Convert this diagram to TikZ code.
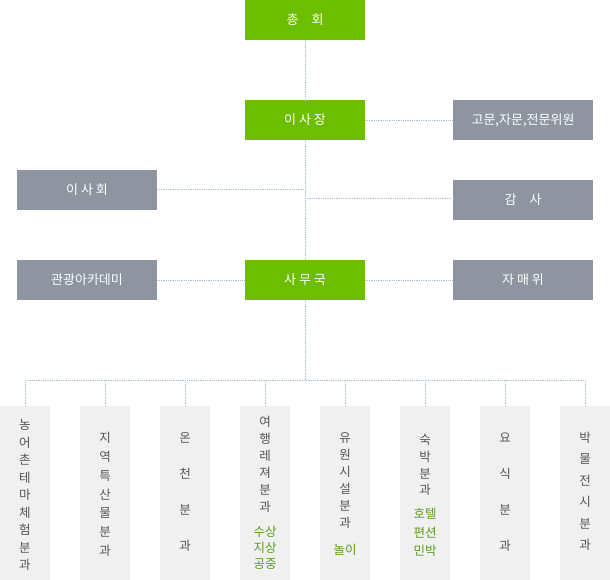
\documentclass[tikz,border=0pt]{standalone}
\usepackage{fontspec}
\setmainfont{Noto Sans CJK KR}
\definecolor{gbox}{HTML}{6DBE00}
\definecolor{sbox}{HTML}{8E95A1}
\definecolor{col}{HTML}{F0F0F0}
\definecolor{ctext}{HTML}{555555}
\definecolor{gtext}{HTML}{5A9E1A}
\definecolor{dline}{HTML}{A8BED2}
\begin{document}
\begin{tikzpicture}[x=1pt,y=-1pt,
  box/.style={minimum width=140pt,minimum height=40pt,inner sep=0pt,text=white,font=\fontsize{13}{15}\selectfont},
  gb/.style={box,fill=gbox,minimum width=120pt},
  sb/.style={box,fill=sbox},
  link/.style={dline,densely dotted,line width=0.8pt},
  ch/.style={font=\fontsize{12.5}{14}\selectfont,text=ctext,inner sep=0pt},
  gc/.style={font=\fontsize{12.5}{14}\selectfont,text=gtext,inner sep=0pt}]
\useasboundingbox (0,0) rectangle (610,580);
\node[gb] (ch) at (305,20) {총\quad 회};
\node[gb] (isj) at (305,120) {이 사 장};
\node[sb] (gm) at (523,120) {고문,자문,전문위원};
\node[sb] (ish) at (87,190) {이 사 회};
\node[sb] (gs) at (523,200) {감\quad 사};
\node[sb] (ak) at (87,280) {관광아카데미};
\node[gb] (smg) at (305,280) {사 무 국};
\node[sb] (jm) at (523,280) {자 매 위};
\coordinate (bus) at (305,380);
\coordinate (j1) at (305,189);
\coordinate (j2) at (305,198);
\draw[link] (ch.south) -- (isj.north);
\draw[link] (isj.south) -- (smg.north);
\draw[link] (smg.south) -- (bus);
\draw[link] (isj.east) -- (gm.west);
\draw[link] (ish.east|-j1) -- (j1);
\draw[link] (j2) -- (gs.west|-j2);
\draw[link] (ak.east) -- (smg.west);
\draw[link] (smg.east) -- (jm.west);
\draw[link] (25,380) coordinate (bl) -- (585,380) coordinate (br);
\foreach \i in {0,...,7}{
  \pgfmathsetmacro\cx{25+80*\i}
  \fill[col] (\cx-25,406) rectangle (\cx+25,580);
  \draw[link] (\cx,380) -- (\cx,406);
}
% column texts
\foreach \c [count=\k from 0] in {농,어,촌,테,마,체,험,분,과}
  \node[ch] (c1\k) at (25,425+17.5*\k) {\c};
\foreach \c [count=\k from 0] in {지,역,특,산,물,분,과}
  \node[ch] (c2\k) at (105,438+18.8*\k) {\c};
\foreach \c [count=\k from 0] in {온,천,분,과}
  \node[ch] (c3\k) at (185,438+36*\k) {\c};
\foreach \c [count=\k from 0] in {여,행,레,져,분,과}
  \node[ch] (c4\k) at (265,422+17*\k) {\c};
\foreach \c [count=\k from 0] in {수상,지상,공중}
  \node[gc] (g4\k) at (265,532+16*\k) {\c};
\foreach \c [count=\k from 0] in {유,원,시,설,분,과}
  \node[ch] (c5\k) at (345,438+17*\k) {\c};
\node[gc] (g5) at (345,550) {놀이};
\foreach \c [count=\k from 0] in {숙,박,분,과}
  \node[ch] (c6\k) at (425,440+16.7*\k) {\c};
\foreach \c [count=\k from 0] in {호텔,편션,민박}
  \node[gc] (g6\k) at (425,514+18.5*\k) {\c};
\foreach \c [count=\k from 0] in {요,식,분,과}
  \node[ch] (c7\k) at (505,438+36*\k) {\c};
\foreach \c [count=\k from 0] in {박,물,전,시,분,과}
  \node[ch] (c8\k) at (585,438+21.4*\k) {\c};
\end{tikzpicture}
\end{document}
